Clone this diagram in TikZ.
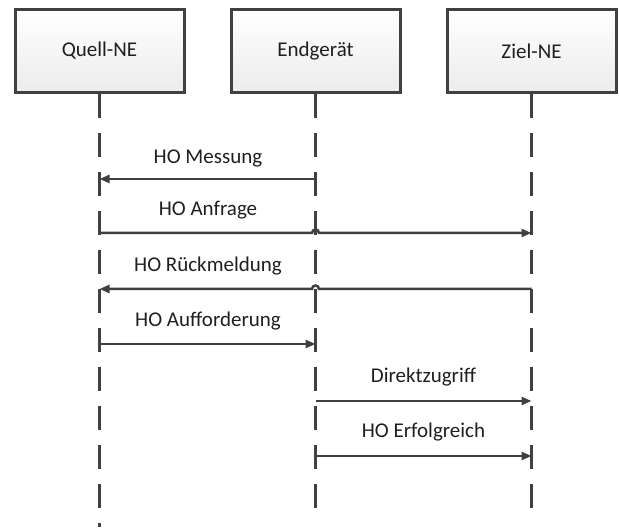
\documentclass[tikz,border=0pt]{standalone}
\usepackage{fontspec}
\setmainfont{Carlito}
\usetikzlibrary{arrows.meta,shadows,calc}
\definecolor{ln}{HTML}{404040}
\definecolor{txt}{HTML}{1F1F1F}
\begin{document}
\begin{tikzpicture}[x=1pt,y=-1pt,
  actor/.style={draw=ln, line width=3pt, minimum width=169pt, minimum height=83pt,
    top color=white, bottom color=gray!15, text=txt, font=\fontsize{21}{25}\selectfont,
    inner sep=0pt, drop shadow={opacity=0.12,shadow xshift=1.5pt,shadow yshift=-1.5pt}},
  life/.style={draw=ln, line width=3pt, dash pattern=on 24pt off 15pt},
  msg/.style={draw=ln, line width=2.5pt, -{Triangle[length=10pt,width=8pt]}},
  lbl/.style={text=txt, font=\fontsize{21}{25}\selectfont, anchor=base, inner sep=0pt}]
\useasboundingbox (0,0) rectangle (619,529);
% actors
\node[actor] (q) at (99.5,51) {Quell-NE};
\node[actor] (e) at (315.5,51) {Endgerät};
\node[actor] (z) at (531.5,51) {Ziel-NE};
% lifelines
\coordinate (qend) at (99.5,527);
\coordinate (eend) at (315.5,508);
\coordinate (zend) at (531.5,508);
\draw[life] (q.south) -- (qend);
\draw[life] (e.south) -- (eend);
\draw[life] (z.south) -- (zend);
% message points
\coordinate (q1) at (99.5,179);  \coordinate (e1) at (315.5,179);
\coordinate (q2) at (99.5,233);  \coordinate (e2) at (315.5,233); \coordinate (z2) at (531.5,233);
\coordinate (q3) at (99.5,289);  \coordinate (e3) at (315.5,289); \coordinate (z3) at (531.5,289);
\coordinate (q4) at (99.5,344);  \coordinate (e4) at (315.5,344);
\coordinate (e5) at (315.5,401); \coordinate (z5) at (531.5,401);
\coordinate (e6) at (315.5,456); \coordinate (z6) at (531.5,456);
% messages
\draw[msg] (e1) -- (q1);
\draw[msg] (q2) -- ($(e2)+(-3.5,0)$) arc[start angle=180,end angle=360,radius=3.5] -- (z2);
\draw[msg] (z3) -- ($(e3)+(3.5,0)$) arc[start angle=0,end angle=-180,radius=3.5] -- (q3);
\draw[msg] (q4) -- (e4);
\draw[msg] (e5) -- (z5);
\draw[msg] (e6) -- (z6);
% labels
\node[lbl] (l1) at (208,164) {HO Messung};
\node[lbl] (l2) at (208,216) {HO Anfrage};
\node[lbl] (l3) at (208,272) {HO Rückmeldung};
\node[lbl] (l4) at (208,327) {HO Aufforderung};
\node[lbl] (l5) at (423.5,383) {Direktzugriff};
\node[lbl] (l6) at (423.5,438) {HO Erfolgreich};
\end{tikzpicture}
\end{document}
